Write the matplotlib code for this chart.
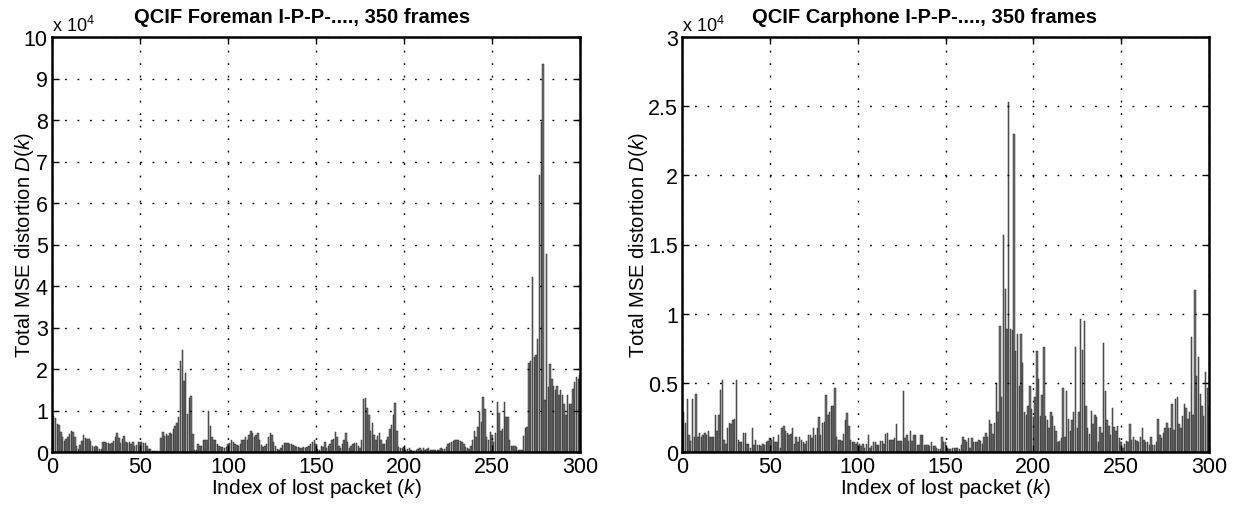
import matplotlib
matplotlib.use("Agg")
import matplotlib.pyplot as plt
import numpy as np

plt.rcParams['font.family'] = ['Liberation Sans', 'DejaVu Sans']
plt.rcParams['mathtext.fontset'] = 'custom'
plt.rcParams['mathtext.rm'] = 'Liberation Sans'
plt.rcParams['mathtext.it'] = 'Liberation Sans:italic'

# total MSE distortion per lost packet, in units of 1e4
foreman = [
    0.86, 0.81, 0.67, 0.65, 0.49, 0.35, 0.27, 0.31, 0.35, 0.43,
    0.51, 0.47, 0.35, 0.15, 0.07, 0.17, 0.27, 0.41, 0.33, 0.31,
    0.31, 0.27, 0.15, 0.11, 0.15, 0.11, 0.07, 0.07, 0.25, 0.25,
    0.22, 0.22, 0.19, 0.22, 0.27, 0.35, 0.46, 0.33, 0.22, 0.31,
    0.38, 0.23, 0.22, 0.23, 0.19, 0.23, 0.14, 0.17, 0.23, 0.25,
    0.25, 0.22, 0.22, 0.15, 0.07, 0.07, 0.03, 0.03, 0.03, 0.03,
    0.03, 0.33, 0.49, 0.39, 0.43, 0.39, 0.46, 0.43, 0.55, 0.62,
    0.71, 0.84, 2.2, 2.45, 1.7, 1.9, 0.92, 1.3, 1.35, 0.43,
    0.05, 0.05, 0.2, 0.15, 0.15, 0.3, 0.3, 0.3, 1.0, 0.63,
    0.35, 0.3, 0.3, 0.2, 0.15, 0.12, 0.12, 0.1, 0.12, 0.2,
    0.22, 0.28, 0.25, 0.2, 0.18, 0.15, 0.2, 0.28, 0.3, 0.35,
    0.3, 0.4, 0.51, 0.45, 0.35, 0.4, 0.45, 0.3, 0.18, 0.12,
    0.15, 0.2, 0.35, 0.45, 0.4, 0.25, 0.15, 0.08, 0.05, 0.1,
    0.18, 0.22, 0.22, 0.22, 0.2, 0.2, 0.18, 0.15, 0.12, 0.12,
    0.1, 0.1, 0.12, 0.1, 0.12, 0.15, 0.2, 0.25, 0.3, 0.19,
    0.08, 0.05, 0.15, 0.12, 0.25, 0.1, 0.15, 0.2, 0.3, 0.32,
    0.48, 0.35, 0.15, 0.1, 0.2, 0.3, 0.46, 0.25, 0.1, 0.15,
    0.2, 0.22, 0.22, 0.15, 0.1, 0.3, 1.28, 1.3, 1.05, 0.88,
    0.51, 0.71, 0.4, 0.3, 0.39, 0.45, 0.3, 0.2, 0.2, 0.3,
    0.35, 0.55, 0.64, 0.88, 1.18, 0.5, 0.12, 0.1, 0.1, 0.12,
    0.05, 0.08, 0.1, 0.05, 0.02, 0.03, 0.05, 0.08, 0.1, 0.05,
    0.1, 0.05, 0.08, 0.1, 0.05, 0.06, 0.06, 0.05, 0.04, 0.06,
    0.1, 0.08, 0.08, 0.12, 0.2, 0.22, 0.24, 0.26, 0.28, 0.3,
    0.3, 0.27, 0.25, 0.2, 0.12, 0.1, 0.08, 0.15, 0.3, 0.5,
    0.35, 0.6, 0.96, 0.73, 1.32, 1.04, 0.35, 0.3, 0.47, 0.4,
    0.25, 0.45, 1.2, 0.95, 0.5, 0.55, 1.2, 0.84, 0.84, 0.3,
    0.15, 0.15, 0.15, 0.12, 0.05, 0.05, 0.05, 0.39, 0.58, 0.6,
    2.15, 2.2, 4.22, 2.3, 2.33, 2.73, 6.67, 7.95, 9.35, 1.25,
    4.78, 1.57, 2.13, 1.77, 1.6, 1.5, 1.6, 1.37, 1.5, 1.37,
    1.16, 0.88, 1.37, 1.16, 1.16, 1.53, 1.69, 1.8, 1.77, 1.85,
]

carphone = [
    0.29, 0.21, 0.38, 0.12, 0.08, 0.38, 0.11, 0.42, 0.11, 0.14,
    0.11, 0.12, 0.14, 0.12, 0.15, 0.11, 0.11, 0.11, 0.27, 0.15,
    0.27, 0.45, 0.52, 0.09, 0.06, 0.17, 0.21, 0.2, 0.23, 0.24,
    0.52, 0.09, 0.07, 0.07, 0.14, 0.14, 0.06, 0.06, 0.03, 0.17,
    0.05, 0.09, 0.05, 0.05, 0.04, 0.06, 0.05, 0.07, 0.08, 0.1,
    0.09, 0.11, 0.07, 0.07, 0.12, 0.03, 0.17, 0.19, 0.15, 0.14,
    0.12, 0.13, 0.17, 0.06, 0.11, 0.07, 0.11, 0.09, 0.07, 0.06,
    0.08, 0.12, 0.12, 0.1, 0.17, 0.12, 0.17, 0.25, 0.12, 0.21,
    0.22, 0.41, 0.27, 0.29, 0.33, 0.33, 0.46, 0.11, 0.09, 0.09,
    0.08, 0.13, 0.23, 0.28, 0.19, 0.09, 0.07, 0.07, 0.06, 0.07,
    0.06, 0.04, 0.06, 0.03, 0.06, 0.12, 0.03, 0.04, 0.07, 0.07,
    0.05, 0.05, 0.08, 0.08, 0.06, 0.13, 0.14, 0.09, 0.09, 0.09,
    0.1, 0.2, 0.08, 0.08, 0.08, 0.44, 0.1, 0.12, 0.08, 0.15,
    0.08, 0.12, 0.12, 0.05, 0.05, 0.12, 0.12, 0.05, 0.05, 0.05,
    0.04, 0.07, 0.04, 0.04, 0.03, 0.02, 0.02, 0.11, 0.07, 0.07,
    0.03, 0.02, 0.02, 0.03, 0.03, 0.03, 0.03, 0.02, 0.05, 0.11,
    0.09, 0.07, 0.1, 0.03, 0.1, 0.07, 0.07, 0.07, 0.09, 0.08,
    0.06, 0.11, 0.14, 0.11, 0.23, 0.2, 0.13, 0.21, 0.5, 0.29,
    0.91, 0.4, 1.57, 1.18, 0.89, 2.53, 0.89, 0.88, 2.3, 0.73,
    0.85, 0.48, 0.85, 0.64, 0.29, 0.27, 0.33, 0.48, 0.31, 0.25,
    0.4, 0.73, 0.53, 0.26, 0.41, 0.76, 0.26, 0.23, 0.17, 0.29,
    0.26, 0.19, 0.15, 0.07, 0.08, 0.1, 0.46, 0.11, 0.44, 0.24,
    0.15, 0.23, 0.29, 0.76, 0.17, 0.29, 0.96, 0.74, 0.95, 0.33,
    0.17, 0.13, 0.3, 0.2, 0.27, 0.25, 0.07, 0.18, 0.14, 0.79,
    0.44, 0.23, 0.19, 0.12, 0.32, 0.18, 0.15, 0.19, 0.1, 0.07,
    0.03, 0.06, 0.08, 0.07, 0.2, 0.09, 0.11, 0.09, 0.08, 0.07,
    0.11, 0.17, 0.09, 0.07, 0.07, 0.05, 0.11, 0.05, 0.05, 0.07,
    0.24, 0.12, 0.1, 0.14, 0.17, 0.21, 0.17, 0.17, 0.35, 0.16,
    0.38, 0.4, 0.2, 0.17, 0.26, 0.35, 0.32, 0.24, 0.29, 0.83,
    0.27, 1.17, 0.55, 0.69, 0.42, 0.33, 0.26, 0.58, 0.46, 0.33,
]

titles = ['QCIF Foreman I-P-P-...., 350 frames', 'QCIF Carphone I-P-P-...., 350 frames']
title_x = [0.473, 0.461]
ylabel_x = [-0.031, -0.061]
ymax = [10, 3]
yticks = [list(range(0, 11)), [0, 0.5, 1, 1.5, 2, 2.5, 3]]
yticklabels = [[str(v) for v in range(0, 11)], ['0', '0.5', '1', '1.5', '2', '2.5', '3']]
xticks = [0, 50, 100, 150, 200, 250, 300]

fig = plt.figure(figsize=(12.36, 5.06), dpi=100)
axes = [fig.add_axes([52/1236, 53/506, 528/1236, 415/506]),
        fig.add_axes([682/1236, 53/506, 527/1236, 415/506])]

for i, ax in enumerate(axes):
    data = [foreman, carphone][i]
    k = np.arange(1, len(data) + 1)
    ax.bar(k, data, width=0.8, color='#6f6f6f', edgecolor='#2a2a2a', linewidth=0.35, zorder=2)
    ax.set_xlim(0, 300)
    ax.set_ylim(0, ymax[i])
    ax.set_xticks(xticks)
    ax.set_yticks(yticks[i])
    ax.set_yticklabels(yticklabels[i])
    ax.grid(True, color='black', linestyle=(0, (1.3, 7.7)), linewidth=1.0, zorder=1)
    ax.set_axisbelow(False)
    ax.tick_params(direction='in', top=True, right=True, length=5, width=1.0,
                   labelsize=15.5, pad=3)
    for s in ax.spines.values():
        s.set_linewidth(1.8)
        s.set_zorder(5)
    ax.set_xlabel('Index of lost packet ($k$)', fontsize=15, labelpad=-1)
    ax.set_ylabel('Total MSE distortion $D(k)$', fontsize=14.5)
    ax.yaxis.set_label_coords(ylabel_x[i], 0.5)
    ax.text(title_x[i], 1.027, titles[i], transform=ax.transAxes, ha='center', va='bottom',
            fontsize=14.5, fontweight='bold')
    ax.text(0.0, 1.005, r'x 10$^4$', transform=ax.transAxes, ha='left', va='bottom',
            fontsize=13)

fig.savefig('out.png', dpi=100)
